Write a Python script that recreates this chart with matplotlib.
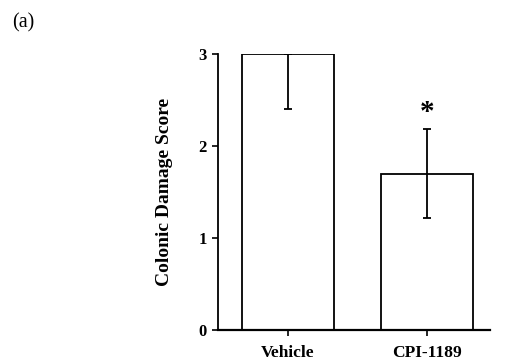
import matplotlib.pyplot as plt

plt.rcParams['font.family'] = ['Liberation Serif', 'DejaVu Serif']

groups = ['Vehicle', 'CPI-1189']
scores = [3.0, 1.7]
err_low = [0.6, 0.48]
err_high = [0.0, 0.48]

fig = plt.figure(figsize=(5.19, 3.6), dpi=100)
ax = fig.add_axes([0.42, 0.083, 0.524, 0.767])

x = [0, 1]
ax.bar(x, scores, width=0.66, color='white', edgecolor='black', linewidth=1.3, zorder=2)
ax.errorbar(x, scores, yerr=[err_low, err_high], fmt='none', ecolor='black',
            elinewidth=1.3, capsize=3, capthick=1.3, zorder=3)

# significance marker
ax.text(1, 2.36, '*', ha='center', va='center', fontsize=21, fontweight='bold')

ax.set_xlim(-0.504, 1.453)
ax.set_ylim(0, 3)
ax.set_yticks([0, 1, 2, 3])
ax.set_xticks(x)
ax.set_xticklabels(groups)
for lab in ax.get_yticklabels():
    lab.set_fontweight('bold')
    lab.set_fontsize(12)
for lab in ax.get_xticklabels():
    lab.set_fontweight('bold')
    lab.set_fontsize(12.5)
ax.tick_params(axis='y', direction='out', length=4, width=1.2, pad=4)
ax.tick_params(axis='x', direction='out', length=4, width=1.2, pad=7)
ax.set_ylabel('Colonic Damage Score', fontsize=14, fontweight='bold', labelpad=18)

ax.spines['top'].set_visible(False)
ax.spines['right'].set_visible(False)
ax.spines['left'].set_linewidth(1.3)
ax.spines['bottom'].set_linewidth(1.6)

fig.text(0.023, 0.925, '(a)', fontsize=14.5)

fig.savefig('out.png', dpi=100)
